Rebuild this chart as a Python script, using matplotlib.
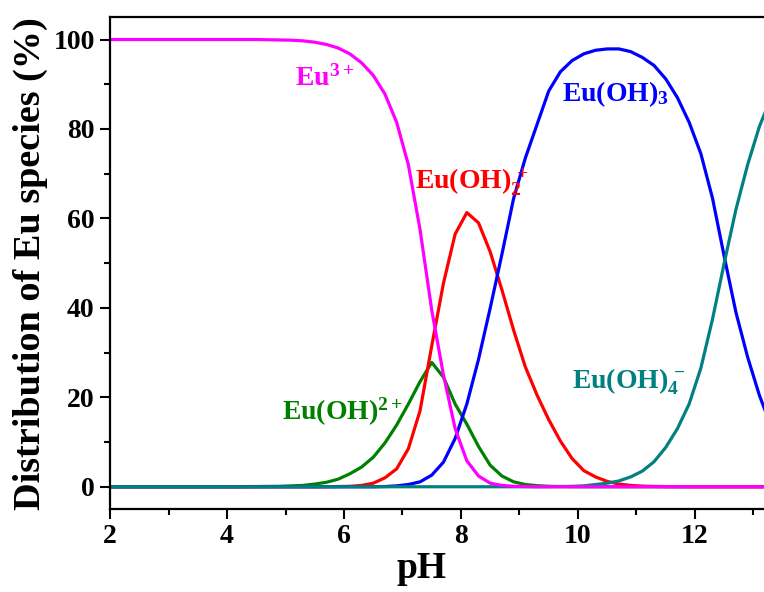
import matplotlib
matplotlib.use("Agg")
import matplotlib.pyplot as plt
from matplotlib.ticker import MultipleLocator

plt.rcParams['font.family'] = 'Liberation Serif'
plt.rcParams['font.weight'] = 'bold'
plt.rcParams['mathtext.fontset'] = 'custom'
plt.rcParams['mathtext.rm'] = 'Liberation Serif:bold'
plt.rcParams['mathtext.it'] = 'Liberation Serif:bold'
plt.rcParams['mathtext.bf'] = 'Liberation Serif:bold'

# pH grid
ph = [2.0, 2.5, 3.0, 3.5, 4.0, 4.5, 4.9, 5.1, 5.3, 5.5, 5.7, 5.9, 6.1, 6.3, 6.5, 6.7,
      6.9, 7.1, 7.3, 7.5, 7.7, 7.9, 8.1, 8.3, 8.5, 8.7, 8.9, 9.1, 9.3, 9.5, 9.7, 9.9,
      10.1, 10.3, 10.5, 10.7, 10.9, 11.1, 11.3, 11.5, 11.7, 11.9, 12.1, 12.3, 12.5,
      12.7, 12.9, 13.1, 13.3]

# species distribution (%)
eu3 = [100, 100, 100, 100, 100, 100, 99.9, 99.85, 99.7, 99.4, 98.9, 98.1, 96.8, 94.8,
       92, 87.8, 81.5, 72, 57.5, 39.5, 25, 13, 5.8, 2.4, 0.8, 0.3, 0.1, 0.05, 0, 0, 0, 0,
       0, 0, 0, 0, 0, 0, 0, 0, 0, 0, 0, 0, 0, 0, 0, 0, 0]
euoh = [0, 0, 0, 0, 0.02, 0.05, 0.1, 0.2, 0.3, 0.6, 1.0, 1.7, 2.9, 4.4, 6.6, 9.8,
        13.8, 18.5, 23.5, 27.8, 24.5, 18.5, 14, 9, 4.8, 2.4, 1.1, 0.5, 0.25, 0.1, 0.05, 0,
        0, 0, 0, 0, 0, 0, 0, 0, 0, 0, 0, 0, 0, 0, 0, 0, 0]
euoh2 = [0, 0, 0, 0, 0, 0, 0, 0, 0, 0, 0.02, 0.05, 0.1, 0.3, 0.8, 2.0,
         4.0, 8.5, 17, 31.5, 45.5, 56.5, 61.3, 59, 52.5, 44, 35, 26.8, 20.5, 15, 10.2, 6.3,
         3.6, 2.2, 1.2, 0.6, 0.3, 0.15, 0.08, 0.04, 0.02, 0, 0, 0, 0, 0, 0, 0, 0]
euoh3 = [0, 0, 0, 0, 0, 0, 0, 0, 0, 0, 0, 0, 0, 0, 0, 0.05,
         0.2, 0.5, 1.1, 2.6, 5.5, 10.8, 18.5, 28.5, 40, 52, 64.5, 73.5, 81, 88.5, 92.8, 95.3,
         96.8, 97.6, 97.9, 97.9, 97.3, 96, 94.2, 91.2, 87, 81.5, 74.5, 64.5, 51.5, 39, 29,
         20.5, 13.5]
euoh4 = [0, 0, 0, 0, 0, 0, 0, 0, 0, 0, 0, 0, 0, 0, 0, 0,
         0, 0, 0, 0, 0, 0, 0, 0, 0, 0, 0, 0, 0, 0, 0.05, 0.1,
         0.2, 0.5, 0.8, 1.3, 2.2, 3.5, 5.6, 8.8, 13, 18.5, 26.5, 37.5, 50, 62, 72,
         80.5, 87]

fig = plt.figure(figsize=(7.64, 5.92), dpi=100)
ax = fig.add_axes([0.144, 0.140, 0.856, 0.831])

lw = 2.3
ax.plot(ph, euoh, color='#008000', lw=lw)
ax.plot(ph, euoh2, color='#FF0000', lw=lw)
ax.plot(ph, euoh3, color='#0000FF', lw=lw)
ax.plot(ph, euoh4, color='#008080', lw=lw)
ax.plot(ph, eu3, color='#FF00FF', lw=lw)

fs = 20
ax.text(5.16, 89.7, 'Eu$^{3+}$', color='#FF00FF', fontsize=fs, fontweight='bold')
ax.text(7.21, 66.5, 'Eu(OH)$_2^{\\,+}$', color='#FF0000', fontsize=fs, fontweight='bold')
ax.text(9.73, 86.3, 'Eu(OH)$_3$', color='#0000FF', fontsize=fs, fontweight='bold')
ax.text(4.94, 15.0, 'Eu(OH)$^{2+}$', color='#008000', fontsize=fs, fontweight='bold')
ax.text(9.9, 22.0, 'Eu(OH)$_4^{\\,-}$', color='#008080', fontsize=fs, fontweight='bold')

ax.set_xlim(2, 13.18)
ax.set_ylim(-5, 105)
ax.xaxis.set_major_locator(MultipleLocator(2))
ax.xaxis.set_minor_locator(MultipleLocator(1))
ax.yaxis.set_major_locator(MultipleLocator(20))
ax.yaxis.set_minor_locator(MultipleLocator(10))
ax.tick_params(which='major', direction='out', length=7, width=1.5, labelsize=20, pad=4)
ax.tick_params(which='minor', direction='out', length=4, width=1.5)
ax.tick_params(top=False, right=False)
for s in ['left', 'bottom', 'top']:
    ax.spines[s].set_linewidth(1.6)
ax.spines['right'].set_visible(False)

ax.set_xlabel('pH', fontsize=27, fontweight='bold')
ax.xaxis.set_label_coords(0.477, -0.085)
ax.set_ylabel('Distribution of Eu species (%)', fontsize=27.5, fontweight='bold', labelpad=4)

fig.savefig('out.png', dpi=100)
